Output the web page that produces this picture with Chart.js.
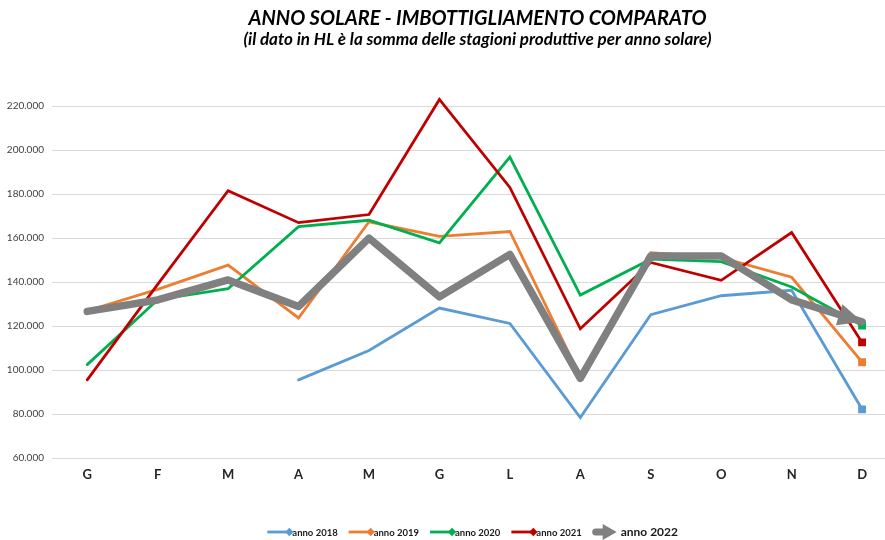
<!DOCTYPE html>
<html><head><meta charset="utf-8">
<script src="https://cdn.jsdelivr.net/npm/chart.js@4"></script>
<style>
html,body{margin:0;padding:0;overflow:hidden;background:#fff;width:885px;height:540px}
#wrap{position:absolute;left:0;top:0;width:955px;height:540px}
</style></head>
<body><div id="wrap"><canvas id="c" width="955" height="540"></canvas></div>
<script>
// ---- data (HL) ----
const months = ['G','F','M','A','M','G','L','A','S','O','N','D'];
const seriesNames = ['anno 2018','anno 2019','anno 2020','anno 2021','anno 2022'];
const anno2018 = [null,null,null,95600,108900,128200,121200,78500,125200,133800,136300,82200];
const anno2019 = [127000,136700,147700,123700,167400,160800,163000,97000,153300,151100,142200,103600];
const anno2020 = [102500,132000,137000,165200,168100,157800,196800,134100,150400,149300,137800,120300];
const anno2021 = [95600,139000,181500,167000,170700,223000,183000,118800,148900,140800,162500,112600];
const anno2022 = [126700,131900,141000,128900,160000,133300,152600,96300,151900,151900,131900,122000];
const yTicks = [60000,80000,100000,120000,140000,160000,180000,200000,220000];
const titleText = 'ANNO SOLARE - IMBOTTIGLIAMENTO COMPARATO';
const subtitleText = '(il dato in HL è la somma delle stagioni produttive per anno solare)';

const colors = ['#5B9BD5','#ED7D31','#00B050','#C00000','#808080'];
const FONT = 'Lato';

function fmt(v){ return String(v).replace(/\B(?=(\d{3})+(?!\d))/g,'.'); }
function endRadius(arr, r){ return arr.map((v,i)=> i===arr.length-1 ? r : 0); }

const seriesData = [anno2018, anno2019, anno2020, anno2021, anno2022];
const datasets = seriesData.map((d,i)=>({
  label: seriesNames[i],
  data: d,
  borderColor: colors[i],
  backgroundColor: colors[i],
  borderWidth: i===4 ? 7.5 : 2.8,
  pointStyle: 'rect',
  pointRadius: i===4 ? 0 : endRadius(d, 3.6),
  pointHoverRadius: 0,
  borderCapStyle: 'round',
  borderJoinStyle: i===4 ? 'round' : 'miter',
  tension: 0,
  spanGaps: false,
  order: 4 - i
}));

const arrowPlugin = {
  id: 'arrowEnd',
  afterDatasetsDraw(chart){
    const meta = chart.getDatasetMeta(4);
    const pts = meta.data;
    const a = pts[pts.length-2], b = pts[pts.length-1];
    const ang = Math.atan2(b.y-a.y, b.x-a.x);
    const L = 24, W = 11;
    const ctx = chart.ctx;
    ctx.save();
    ctx.translate(b.x, b.y);
    ctx.rotate(ang);
    ctx.fillStyle = colors[4];
    ctx.beginPath();
    ctx.moveTo(0,0);
    ctx.lineTo(-L,-W);
    ctx.lineTo(-L, W);
    ctx.closePath();
    ctx.fill();
    ctx.restore();
  }
};

// centre title & subtitle on the full canvas width
const centerTitles = {
  id: 'centerTitles',
  afterLayout(chart){
    chart.boxes.forEach(b=>{
      if (b.options && (b.options.text===titleText || b.options.text===subtitleText)){
        b.left = 0; b.right = chart.width; b.width = chart.width;
      }
    });
  }
};

const legendPlugin = {
  id: 'customLegend',
  afterDraw(chart){
    const ctx = chart.ctx;
    ctx.save();
    const y = 532;
    const small = 'bold 9.5px ' + FONT;
    const big = 'bold 12px ' + FONT;
    const lineLen = 24, gap = 11;
    const items = seriesNames.map((n,i)=>{
      ctx.font = i===4 ? big : small;
      const tw = ctx.measureText(n).width;
      const w = i===4 ? lineLen + 4 + tw : lineLen + 1 + tw;
      return {n, i, tw, w};
    });
    const total = items.reduce((s,it)=>s+it.w,0) + gap*(items.length-1);
    const ca = chart.chartArea;
    let x = (ca.left + ca.right)/2 - total/2 - 2;
    items.forEach(it=>{
      const c = colors[it.i];
      ctx.strokeStyle = c; ctx.fillStyle = c;
      if (it.i < 4){
        ctx.lineWidth = 2.8;
        ctx.beginPath(); ctx.moveTo(x, y); ctx.lineTo(x+lineLen-2, y); ctx.stroke();
        const dx = x+lineLen-2, s = 4.2;
        ctx.beginPath(); ctx.moveTo(dx, y-s); ctx.lineTo(dx+s, y); ctx.lineTo(dx, y+s); ctx.lineTo(dx-s, y); ctx.closePath(); ctx.fill();
        ctx.fillStyle = '#1a1a1a'; ctx.font = small; ctx.textBaseline = 'middle'; ctx.textAlign = 'left';
        ctx.fillText(it.n, x+lineLen+1, y+0.5);
      } else {
        ctx.lineWidth = 7; ctx.lineCap = 'round';
        ctx.beginPath(); ctx.moveTo(x+3, y); ctx.lineTo(x+12, y); ctx.stroke();
        ctx.beginPath(); ctx.moveTo(x+lineLen, y); ctx.lineTo(x+10, y-8); ctx.lineTo(x+10, y+8); ctx.closePath(); ctx.fill();
        ctx.fillStyle = '#1a1a1a'; ctx.font = big; ctx.textBaseline = 'middle'; ctx.textAlign = 'left';
        ctx.fillText(it.n, x+lineLen+4, y);
      }
      x += it.w + gap;
    });
    ctx.restore();
  }
};

new Chart(document.getElementById('c'), {
  type: 'line',
  data: { labels: months, datasets },
  plugins: [arrowPlugin, centerTitles, legendPlugin],
  options: {
    responsive: false,
    devicePixelRatio: 1,
    animation: false,
    events: [],
    layout: { padding: { left: 0, right: 57.7, top: 0, bottom: 49.2 } },
    plugins: {
      legend: { display: false },
      tooltip: { enabled: false },
      title: {
        display: true, text: titleText, color: '#000',
        font: { family: FONT, size: 20, weight: 'bold', style: 'italic', lineHeight: 1.1 },
        padding: { top: 8, bottom: 0 }
      },
      subtitle: {
        display: true, text: subtitleText, color: '#000',
        font: { family: FONT, size: 17, weight: 'bold', style: 'italic', lineHeight: 1.1 },
        padding: { top: 0, bottom: 35.3 }
      }
    },
    scales: {
      x: {
        offset: true,
        grid: { display: false, drawTicks: false },
        border: { display: false },
        ticks: { color: '#262626', padding: 8.5, font: { family: FONT, size: 13, weight: 'bold' }, maxRotation: 0, autoSkip: false }
      },
      y: {
        min: 60000, max: 230000,
        afterFit(s){ s.width = 52; },
        afterBuildTicks(s){ s.ticks = yTicks.map(v=>({value:v})); },
        grid: { color: '#d9d9d9', lineWidth: 1, drawTicks: false },
        border: { display: false },
        ticks: { color: '#404040', padding: 8, font: { family: FONT, size: 10 }, callback: v => fmt(v) }
      }
    }
  }
});
</script>
</body></html>
